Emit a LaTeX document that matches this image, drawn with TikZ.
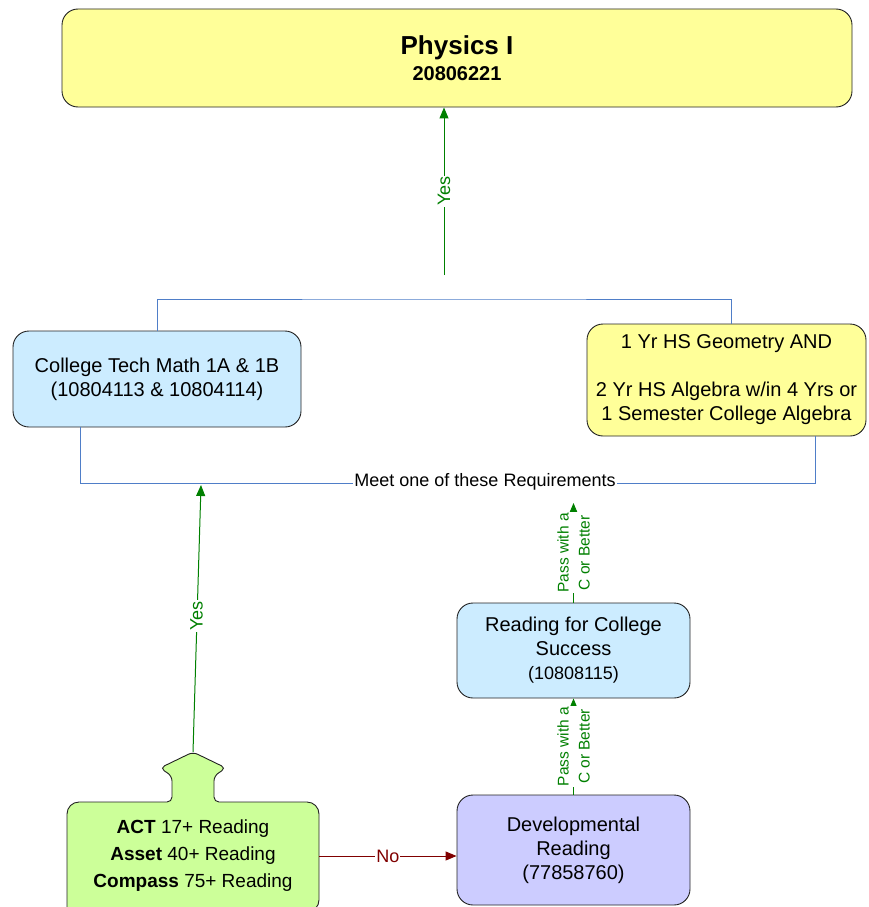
\documentclass[tikz,border=0pt]{standalone}
\usepackage{fontspec}
\setmainfont{Liberation Sans}
\usetikzlibrary{arrows.meta}
\definecolor{phyyellow}{HTML}{FFFF99}
\definecolor{lblue}{HTML}{CCECFF}
\definecolor{lav}{HTML}{CCCCFF}
\definecolor{lgreen}{HTML}{CCFF99}
\definecolor{joinblue}{HTML}{4F7EC8}
\definecolor{arrgreen}{HTML}{008000}
\definecolor{arrred}{HTML}{800000}
\definecolor{edge}{HTML}{222222}
\begin{document}
\begin{tikzpicture}[x=1pt,y=1pt,
  box/.style={draw=edge, line width=0.9pt, rounded corners=16pt, align=center,
    inner sep=0pt, font=\fontsize{20}{24}\selectfont},
  joinline/.style={draw=joinblue, line width=0.8pt},
  yesarrow/.style={draw=arrgreen, line width=1pt, -{Triangle[length=11pt,width=9pt]}},
  noarrow/.style={draw=arrred, line width=1pt, -{Triangle[length=11pt,width=9pt]}},
  glabel/.style={fill=white, text=arrgreen, inner sep=1pt, font=\fontsize{18}{20}\selectfont},
  plabel/.style={fill=white, text=arrgreen, inner sep=1pt, align=center, font=\fontsize{15.5}{21}\selectfont},
]
\useasboundingbox (0,0) rectangle (868,-907);

% nodes
\node[box, fill=phyyellow, minimum width=790pt, minimum height=98pt] (phys) at (457,-58)
  {{\fontsize{26}{30}\selectfont\bfseries Physics I}\\[2pt]{\fontsize{20}{24}\selectfont\bfseries 20806221}};
\node[box, fill=lblue, minimum width=288pt, minimum height=96pt] (coll) at (157,-379)
  {College Tech Math 1A \& 1B\\(10804113 \& 10804114)};
\node[box, fill=phyyellow, minimum width=279pt, minimum height=112pt] (geo) at (726.5,-380)
  {1 Yr HS Geometry AND\\[24pt]2 Yr HS Algebra w/in 4 Yrs or\\1 Semester College Algebra};
\node[box, fill=lblue, minimum width=233pt, minimum height=95pt] (read) at (573.5,-650.5)
  {Reading for College\\Success\\{\fontsize{18}{24}\selectfont(10808115)}};
\node[box, fill=lav, minimum width=233pt, minimum height=110pt] (dev) at (573.5,-850)
  {Developmental\\Reading\\(77858760)};

% green test shape
\fill[lgreen, draw=edge, line width=0.9pt]
  (67,-912) [rounded corners=12pt] -- (67,-802) [rounded corners=5pt] -- (172,-802) -- (172,-776)
  -- (160,-768) -- (193,-752) -- (226,-768) -- (214,-776) -- (214,-802)
  [rounded corners=12pt] -- (319,-802) -- (319,-912) [sharp corners] -- cycle;
\coordinate (apex) at (193,-752);
\node[minimum width=252pt, minimum height=108pt, inner sep=0pt, align=center,
  font=\fontsize{19}{27}\selectfont] (test) at (193,-856)
  {\textbf{ACT} 17+ Reading\\\textbf{Asset} 40+ Reading\\\textbf{Compass} 75+ Reading};

% join lines
\coordinate (tj) at (444,-299);
\coordinate (bl) at (80,-483);
\coordinate (br) at (815,-483);
\draw[joinline] (coll.north) |- (tj) -| ([xshift=5pt]geo.north);
\draw[joinline] (coll.south -| bl) -- (bl) -- (br) -- (geo.south -| br);
\node[fill=white, inner sep=1pt, font=\fontsize{18}{20}\selectfont] (meet) at (485,-482)
  {Meet one of these Requirements};

% arrows
\coordinate (yesstart) at (444,-275);
\draw[yesarrow] (yesstart) -- (yesstart |- phys.south)
  node[glabel, midway, rotate=90] {Yes};
\coordinate (yes2end) at (201,-485);
\draw[yesarrow] (apex) -- (yes2end);
\node[glabel, rotate=90] (yes2lbl) at (196.6,-616) {Yes};
\coordinate (passend) at (573.5,-503);
\draw[yesarrow] (read.north) -- (passend)
  node[plabel, midway, rotate=90] {Pass with a\\C or Better};
\draw[yesarrow] (dev.north) -- (read.south)
  node[plabel, midway, rotate=90] {Pass with a\\C or Better};
\draw[noarrow] (test.east) -- (test.east -| dev.west)
  node[midway, fill=white, text=arrred, inner sep=1pt, font=\fontsize{18}{20}\selectfont] {No};
\end{tikzpicture}
\end{document}
